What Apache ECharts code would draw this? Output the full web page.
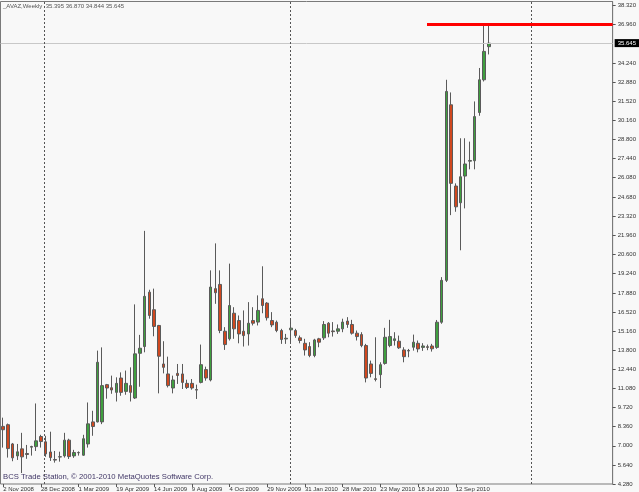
<!DOCTYPE html>
<html>
<head>
<meta charset="utf-8">
<script src="https://cdn.jsdelivr.net/npm/echarts@6/dist/echarts.min.js"></script>
<style>
html,body{margin:0;padding:0;background:#f8f8f8;}
#chart{width:639px;height:492px;}
</style>
</head>
<body>
<div id="chart"></div>
<script>
// Weekly bars, 2 Nov 2008 onward (index = bar number)
const opens = [8.38,8.5,7.13,6.28,6.78,6.45,6.9,6.94,7.66,7.28,
  6.56,6.02,6.2,6.28,7.4,6.28,6.5,6.33,7.13,8.7,
  8.7,8.7,11.35,11.13,10.8,11.82,10.87,11.28,10.4,13.58,
  14.06,17.93,16.68,15.56,12.82,12.11,11.11,12.15,12.11,11.44,
  11.44,11.0,11.51,12.42,11.68,18.18,18.48,15.15,14.61,16.43,
  15.91,15.15,14.96,15.91,15.8,17.46,17.15,15.91,15.79,15.2,
  14.6,15.25,15.2,14.68,14.29,14.06,13.42,14.61,14.68,15.72,
  15.17,15.15,15.32,15.87,15.63,15.01,14.91,14.13,12.82,11.77,
  12.06,12.86,14.13,14.49,14.44,13.82,13.78,14.01,14.29,14.0,
  14.05,14.1,14.0,15.79,18.77,31.26,25.48,24.29,26.19,27.25,
  27.28,30.71,33.04,35.395];
const highs = [9.0,8.58,7.2,7.13,7.92,7.06,7.0,10.01,7.78,7.71,
  8.0,6.63,6.58,7.92,7.5,6.71,6.6,7.78,10.08,9.49,
  13.77,14.0,11.4,11.99,11.87,12.22,12.35,12.58,17.06,14.89,
  22.29,18.1,18.18,15.6,14.44,13.34,11.99,12.82,12.82,11.7,
  11.75,11.35,14.2,12.63,19.48,21.4,19.48,15.44,19.96,16.86,
  16.27,16.63,17.22,16.86,17.7,19.77,17.22,16.51,15.91,15.32,
  14.96,16.03,15.32,14.84,14.61,14.37,14.61,14.68,15.87,15.8,
  15.8,15.63,16.04,16.15,15.96,15.2,15.08,14.25,13.06,14.72,
  12.94,15.39,15.96,15.08,14.84,14.01,13.89,14.91,14.49,14.3,
  14.2,14.25,15.95,19.0,33.04,32.14,25.67,28.88,28.88,28.64,
  31.5,33.88,36.96,36.87];
const lows = [6.87,6.16,5.9,5.99,5.06,6.07,6.3,6.63,6.87,6.21,
  5.92,5.8,5.87,6.16,6.06,6.14,6.3,6.28,6.87,7.71,
  8.66,8.54,10.35,10.7,10.15,10.56,10.63,10.15,10.33,11.2,
  13.65,16.04,14.79,10.73,12.15,11.15,10.73,11.4,11.04,11.04,
  10.99,10.33,11.44,11.63,11.58,17.1,15.01,13.82,14.49,14.61,
  14.29,14.06,14.13,15.56,15.56,16.43,15.91,15.44,15.08,14.25,
  14.25,14.37,14.68,14.29,13.42,13.3,13.3,14.01,14.53,14.72,
  14.77,14.96,15.08,15.39,14.91,14.49,14.01,11.51,11.87,11.58,
  11.11,12.77,14.01,14.13,13.89,12.94,13.3,13.77,13.65,13.75,
  13.8,13.7,13.9,15.68,18.65,23.41,23.65,20.91,23.89,26.67,
  26.67,30.48,32.92,34.844];
const closes = [8.14,6.8,6.14,6.57,6.21,6.38,6.95,7.35,7.3,6.42,
  6.16,5.98,6.22,7.4,6.23,6.52,6.52,7.5,8.56,8.37,
  12.94,11.28,11.11,10.97,11.44,10.8,11.44,10.8,13.54,13.94,
  17.63,16.27,15.49,13.37,12.58,11.28,11.68,12.0,11.51,11.15,
  11.11,10.96,12.77,11.82,18.29,17.89,15.2,14.2,16.98,15.32,
  14.96,14.84,15.72,15.72,16.63,16.98,16.11,15.6,15.2,14.56,
  14.65,15.37,14.84,14.49,13.82,13.42,14.53,14.37,15.63,15.01,
  15.12,15.32,15.8,15.63,15.01,14.77,14.13,11.82,12.15,11.72,
  12.77,14.72,14.77,14.61,13.97,13.34,13.74,14.37,13.89,14.1,
  14.0,13.9,15.79,18.77,32.21,25.67,24.0,26.14,27.05,27.3,
  30.42,33.04,35.06,35.645];

const xTickIndex = [0,8,16,24,32,40,48,56,64,72,80,88,96];
const xTickLabels = ['2 Nov 2008','28 Dec 2008','1 Mar 2009','19 Apr 2009','14 Jun 2009','9 Aug 2009',
  '4 Oct 2009','29 Nov 2009','31 Jan 2010','28 Mar 2010','23 May 2010','18 Jul 2010','12 Sep 2010'];
const yTickValues = [4.28,5.64,7.0,8.36,9.72,11.08,12.44,13.8,15.16,16.52,17.88,19.24,20.6,21.96,
  23.32,24.68,26.08,27.44,28.8,30.16,31.52,32.88,34.24,36.96,38.32];
const symbolName = '_AVAZ,Weekly';
const lastQuote = [35.395, 36.870, 34.844, 35.645];
const resistanceLevel = 36.96;
const resistanceFromBar = 89.9;
const yearSeparators = [8.7, 60.8, 112.0];

const X_MIN = -0.569, X_MAX = 129.28;
const FONT = "'Liberation Sans', Arial, sans-serif";

const candleData = opens.map((o, i) => [i, o, closes[i], lows[i], highs[i]]);

const chart = echarts.init(document.getElementById('chart'), null, {renderer: 'canvas'});
chart.setOption({
  animation: false,
  backgroundColor: '#f8f8f8',
  grid: {left: 0.5, top: 1.5, right: 23, bottom: 8, show: true, borderColor: '#7a7a7a', borderWidth: 1, backgroundColor: '#f8f8f8'},
  xAxis: {
    type: 'value', min: X_MIN, max: X_MAX,
    axisLine: {show: false, onZero: false},
    splitLine: {show: false},
    axisTick: {show: true, customValues: xTickIndex, length: 3, lineStyle: {color: '#555'}},
    axisLabel: {
      customValues: xTickIndex, fontSize: 6, fontFamily: FONT, color: '#333', margin: 2, align: 'left',
      formatter: v => xTickLabels[xTickIndex.indexOf(Math.round(v))] || ''
    }
  },
  yAxis: {
    type: 'value', position: 'right', min: 4.28, max: 38.61,
    axisLine: {show: true, onZero: false, lineStyle: {color: '#7a7a7a'}},
    splitLine: {show: false},
    axisTick: {show: true, customValues: yTickValues, length: 3, lineStyle: {color: '#555'}},
    axisLabel: {customValues: yTickValues, fontSize: 6, fontFamily: FONT, color: '#333', margin: 5,
      formatter: v => v.toFixed(3)}
  },
  series: [{
    type: 'candlestick',
    data: candleData,
    barWidth: 3,
    itemStyle: {color: '#3f9f3f', color0: '#d0481f', borderColor: '#5a5a5a', borderColor0: '#5a5a5a', borderWidth: 1},
    markLine: {
      silent: true, symbol: 'none', animation: false,
      data: [
        {yAxis: lastQuote[3], lineStyle: {color: '#c8c8c8', width: 1, type: 'solid'},
         label: {show: true, position: 'end', distance: 2, formatter: lastQuote[3].toFixed(3),
           backgroundColor: '#000', color: '#fff', fontSize: 6, fontFamily: FONT, padding: [1, 3]}},
        ...yearSeparators.map(x => ({xAxis: x, lineStyle: {color: '#555', width: 1, type: [2, 2]}, label: {show: false}})),
        [{coord: [resistanceFromBar, resistanceLevel], lineStyle: {color: '#ff0000', width: 3, type: 'solid'}, label: {show: false}},
         {coord: [X_MAX, resistanceLevel]}]
      ]
    }
  }],
  graphic: [
    {type: 'text', left: 3, top: 3, style: {text: symbolName + '  ' + lastQuote.map(v => v.toFixed(3)).join(' '),
      fontSize: 6, fontFamily: FONT, fill: '#555'}},
    {type: 'text', left: 3, top: 473, style: {text: 'BCS Trade Station, © 2001-2010 MetaQuotes Software Corp.',
      fontSize: 7.7, fontFamily: FONT, fill: '#403666'}}
  ]
});
</script>
</body>
</html>
